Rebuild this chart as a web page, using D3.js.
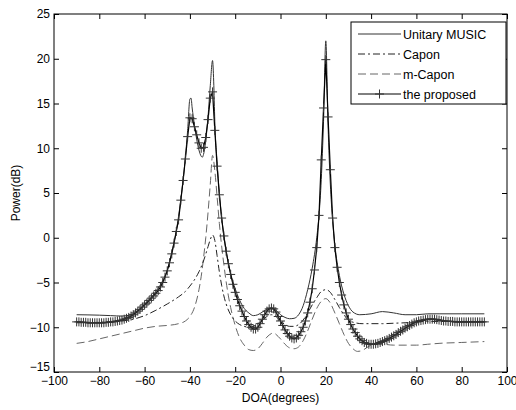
<!DOCTYPE html>
<html>
<head>
<meta charset="utf-8">
<script src="https://cdn.jsdelivr.net/npm/d3@7.9.0/dist/d3.min.js"></script>
<style>
  body { margin: 0; background: #fff; }
  svg { display: block; font-family: Arial, "Liberation Sans", sans-serif; }
  .tick text { font-size: 12px; fill: #000; }
</style>
</head>
<body>
<svg id="chart" width="516" height="410"></svg>
<script>
// angle grid of the proposed method (1 degree)
const propDeg = [
  -90,-89,-88,-87,-86,-85,-84,-83,-82,-81,-80,-79,-78,-77,-76,-75,-74,-73,-72,-71,
  -70,-69,-68,-67,-66,-65,-64,-63,-62,-61,-60,-59,-58,-57,-56,-55,-54,-53,-52,-51,
  -50,-49,-48,-47,-46,-45,-44,-43,-42,-41,-40,-39,-38,-37,-36,-35,-34,-33,-32,-31,
  -30,-29,-28,-27,-26,-25,-24,-23,-22,-21,-20,-19,-18,-17,-16,-15,-14,-13,-12,-11,
  -10,-9,-8,-7,-6,-5,-4,-3,-2,-1,0,1,2,3,4,5,6,7,8,9,
  10,11,12,13,14,15,16,17,18,19,20,21,22,23,24,25,26,27,28,29,
  30,31,32,33,34,35,36,37,38,39,40,41,42,43,44,45,46,47,48,49,
  50,51,52,53,54,55,56,57,58,59,60,61,62,63,64,65,66,67,68,69,
  70,71,72,73,74,75,76,77,78,79,80,81,82,83,84,85,86,87,88,89,90
];
const propPow = [
  -9.4,-9.4,-9.45,-9.45,-9.45,-9.5,-9.5,-9.5,-9.5,-9.5,
  -9.5,-9.5,-9.5,-9.45,-9.45,-9.4,-9.4,-9.35,-9.3,-9.25,
  -9.2,-9.1,-9.0,-8.9,-8.75,-8.6,-8.4,-8.2,-8.0,-7.75,
  -7.5,-7.3,-7.0,-6.75,-6.5,-6.2,-5.9,-5.5,-5.0,-4.4,
  -3.7,-2.8,-1.8,-0.6,0.7,2.0,4.2,6.4,8.8,11.3,
  13.4,13.3,12.4,11.5,10.6,10.0,10.1,11.2,13.2,15.6,
  16.3,12.0,8.0,4.8,2.2,0.2,-1.5,-2.9,-4.1,-5.2,
  -6.1,-6.9,-7.6,-8.2,-8.8,-9.3,-9.7,-10.0,-10.2,-10.2,
  -10.0,-9.6,-9.1,-8.6,-8.2,-7.95,-7.85,-7.95,-8.3,-8.8,
  -9.3,-9.8,-10.3,-10.7,-11.0,-11.2,-11.3,-11.2,-10.9,-10.5,
  -10.0,-9.3,-8.4,-7.2,-5.7,-3.6,-1.1,2.5,8.7,14.5,
  19.9,13.5,7.6,2.2,-1.1,-3.3,-5.0,-6.4,-7.5,-8.4,
  -9.1,-9.7,-10.2,-10.6,-11.0,-11.3,-11.5,-11.7,-11.8,-11.9,
  -11.9,-11.9,-11.85,-11.8,-11.7,-11.6,-11.5,-11.4,-11.25,-11.1,
  -10.95,-10.8,-10.6,-10.45,-10.3,-10.1,-9.95,-9.8,-9.65,-9.5,
  -9.4,-9.3,-9.25,-9.2,-9.15,-9.1,-9.1,-9.1,-9.1,-9.15,
  -9.2,-9.25,-9.3,-9.3,-9.35,-9.35,-9.35,-9.4,-9.4,-9.4,
  -9.4,-9.4,-9.4,-9.4,-9.4,-9.4,-9.4,-9.4,-9.4,-9.4,
  -9.4
];

// Unitary MUSIC
const musicDeg = [-90,-85,-80,-75,-70,-66,-62,-58,-55,-52,-50,-48,-46,-44,-42,-41,-40,-39.5,-39,-38,-37,-36,-35,-34.5,-34,-33,-32,-31,-30,-29.5,-29,-28,-27,-26,-25,-24,-22,-20,-18,-16,-14,-12,-10,-8,-6,-4,-2,0,2,4,6,8,10,12,14,16,17,18,19,20,21,22,23,24,26,28,30,32,35,40,45,50,55,60,65,70,80,90];
const musicPow = [-8.6,-8.62,-8.65,-8.7,-8.75,-8.6,-7.9,-6.9,-6.0,-4.8,-3.6,-1.6,0.8,4.3,9.0,12.0,15.5,15.6,14.5,12.6,11.0,9.8,9.1,9.0,9.3,10.8,13.5,17.0,19.8,17.5,13.0,8.5,5.0,2.3,0.2,-1.5,-4.0,-5.7,-7.0,-7.9,-8.4,-8.7,-8.6,-8.3,-8.0,-7.85,-8.1,-8.6,-8.9,-9.05,-9.0,-8.6,-7.6,-5.8,-3.4,0.0,2.5,6.5,13.0,22.0,12.5,6.0,2.0,-0.8,-4.2,-6.3,-7.6,-8.3,-8.6,-8.5,-8.25,-8.4,-8.6,-8.6,-8.5,-8.5,-8.5,-8.5];

// Capon
const caponDeg = [-90,-80,-70,-65,-60,-55,-50,-45,-42,-40,-38,-36,-34,-32,-31,-30,-29,-28,-27,-26,-25,-24,-22,-20,-18,-16,-14,-12,-10,-8,-6,-4,-2,0,2,4,6,8,10,12,14,16,18,20,22,24,26,28,30,33,36,40,45,50,55,60,65,70,80,90];
const caponPow = [-9.5,-9.45,-9.3,-9.1,-8.7,-8.1,-7.4,-6.6,-6.0,-5.4,-4.7,-3.8,-2.6,-1.0,-0.2,0.3,-0.3,-2.0,-3.8,-5.3,-6.5,-7.4,-8.6,-9.3,-9.7,-9.9,-10.0,-9.9,-9.6,-9.2,-8.8,-8.6,-8.8,-9.3,-9.7,-9.9,-9.9,-9.7,-9.2,-8.4,-7.5,-6.7,-6.0,-5.8,-6.1,-6.9,-7.8,-8.6,-9.2,-9.5,-9.6,-9.6,-9.6,-9.55,-9.5,-9.4,-9.35,-9.35,-9.35,-9.35];

// m-Capon
const mcaponDeg = [-90,-85,-80,-75,-70,-65,-60,-55,-50,-45,-42,-40,-38,-36,-35,-34,-33,-32,-31,-30,-29,-28,-27,-26,-25,-24,-23,-22,-20,-18,-16,-14,-12,-10,-8,-6,-4,-3,-2,0,2,4,6,8,10,12,14,16,18,20,22,24,26,28,30,32,34,36,38,40,45,50,55,60,65,70,80,90];
const mcaponPow = [-11.8,-11.6,-11.3,-11.0,-10.7,-10.4,-10.1,-9.9,-9.8,-9.6,-9.3,-8.8,-7.8,-5.8,-4.3,-2.3,0.0,2.8,6.0,9.2,7.5,4.6,1.6,-0.9,-3.0,-4.9,-6.5,-7.8,-9.8,-11.2,-12.0,-12.5,-12.6,-12.4,-11.8,-11.1,-10.7,-10.6,-10.8,-11.3,-11.9,-12.3,-12.4,-12.2,-11.5,-10.4,-9.1,-7.9,-7.1,-6.8,-7.3,-8.4,-9.6,-10.8,-11.8,-12.4,-12.7,-12.6,-12.3,-12.0,-11.9,-12.0,-12.0,-12.0,-11.9,-11.8,-11.7,-11.6];

const seriesNames = ['Unitary MUSIC', 'Capon', 'm-Capon', 'the proposed'];
const xTicks = [-100,-80,-60,-40,-20,0,20,40,60,80,100];
const yTicks = [-15,-10,-5,0,5,10,15,20,25];

const plotLeft = 54, plotRight = 507, plotTop = 14, plotBottom = 372;

const svg = d3.select('#chart');
const x = d3.scaleLinear().domain([-100, 100]).range([plotLeft, plotRight]);
const y = d3.scaleLinear().domain([-15, 25]).range([plotBottom, plotTop]);

// axes with inward ticks on all four sides
svg.append('g')
  .attr('transform', `translate(0,${plotBottom})`)
  .call(d3.axisBottom(x).tickValues(xTicks).tickSizeInner(-5).tickSizeOuter(0).tickPadding(4))
  .call(g => g.select('.domain').remove());
svg.append('g')
  .attr('transform', `translate(0,${plotTop})`)
  .call(d3.axisTop(x).tickValues(xTicks).tickSizeInner(-5).tickSizeOuter(0).tickFormat(''))
  .call(g => g.select('.domain').remove());
svg.append('g')
  .attr('transform', `translate(${plotLeft},0)`)
  .call(d3.axisLeft(y).tickValues(yTicks).tickSizeInner(-5).tickSizeOuter(0).tickPadding(4))
  .call(g => g.select('.domain').remove())
  .call(g => g.selectAll('.tick').filter(d => d === -15).select('text').attr('dy', '-0.1em'));
svg.append('g')
  .attr('transform', `translate(${plotRight},0)`)
  .call(d3.axisRight(y).tickValues(yTicks).tickSizeInner(-5).tickSizeOuter(0).tickFormat(''))
  .call(g => g.select('.domain').remove());

svg.selectAll('.tick line').attr('stroke', '#000');

svg.append('rect')
  .attr('x', plotLeft).attr('y', plotTop)
  .attr('width', plotRight - plotLeft).attr('height', plotBottom - plotTop)
  .attr('fill', 'none').attr('stroke', '#000').attr('stroke-width', 1);

const line = d3.line()
  .x(d => x(d[0]))
  .y(d => y(d[1]))
  .curve(d3.curveMonotoneX);

const zip = (a, b) => a.map((v, i) => [v, b[i]]);

const plot = svg.append('g');

plot.append('path')
  .datum(zip(mcaponDeg, mcaponPow))
  .attr('d', line)
  .attr('fill', 'none').attr('stroke', '#666').attr('stroke-width', 1)
  .attr('stroke-dasharray', '8,4');

plot.append('path')
  .datum(zip(caponDeg, caponPow))
  .attr('d', line)
  .attr('fill', 'none').attr('stroke', '#222').attr('stroke-width', 1)
  .attr('stroke-dasharray', '7,3,2,3');

plot.append('path')
  .datum(zip(musicDeg, musicPow))
  .attr('d', line)
  .attr('fill', 'none').attr('stroke', '#333').attr('stroke-width', 1);

const propData = zip(propDeg, propPow);
plot.append('path')
  .datum(propData)
  .attr('d', d3.line().x(d => x(d[0])).y(d => y(d[1])))
  .attr('fill', 'none').attr('stroke', '#000').attr('stroke-width', 1.2);

const cross = 4.5;
plot.selectAll('path.mark')
  .data(propData)
  .join('path')
  .attr('class', 'mark')
  .attr('d', d => {
    const cx = x(d[0]), cy = y(d[1]);
    return `M${cx - cross},${cy}H${cx + cross}M${cx},${cy - cross}V${cy + cross}`;
  })
  .attr('stroke', '#333').attr('stroke-width', 1).attr('fill', 'none');

// axis labels
svg.append('text')
  .attr('x', (plotLeft + plotRight) / 2).attr('y', 402)
  .attr('text-anchor', 'middle').attr('font-size', 12)
  .text('DOA(degrees)');
svg.append('text')
  .attr('transform', `translate(20,${(plotTop + plotBottom) / 2}) rotate(-90)`)
  .attr('text-anchor', 'middle').attr('font-size', 12)
  .text('Power(dB)');

// legend
const legend = svg.append('g');
legend.append('rect')
  .attr('x', 351).attr('y', 22).attr('width', 155).attr('height', 82)
  .attr('fill', '#fff').attr('stroke', '#000').attr('stroke-width', 1);

const legendStyles = [
  { stroke: '#333', dash: null },
  { stroke: '#222', dash: '7,3,2,3' },
  { stroke: '#666', dash: '8,4' },
  { stroke: '#000', dash: null }
];
seriesNames.forEach((name, i) => {
  const ly = 34 + i * 20;
  legend.append('line')
    .attr('x1', 358).attr('x2', 401).attr('y1', ly).attr('y2', ly)
    .attr('stroke', legendStyles[i].stroke).attr('stroke-width', 1)
    .attr('stroke-dasharray', legendStyles[i].dash);
  if (i === 3) {
    legend.append('path')
      .attr('d', `M${379.5 - cross},${ly}H${379.5 + cross}M379.5,${ly - cross}V${ly + cross}`)
      .attr('stroke', '#333').attr('fill', 'none');
  }
  legend.append('text')
    .attr('x', 403).attr('y', ly + 4.5)
    .attr('font-size', 12.5)
    .text(name);
});
</script>
</body>
</html>
